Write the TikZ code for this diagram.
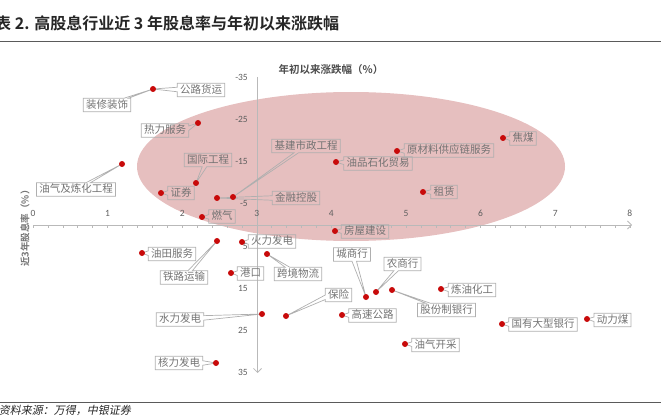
\documentclass[tikz,border=0pt]{standalone}
\usepackage{fontspec}
\newfontfamily\cjk[BoldFont={Noto Sans CJK SC Bold}]{Noto Sans CJK SC}
\newfontfamily\cjkit[FakeSlant=0.2]{Noto Sans CJK SC}
\newfontfamily\numfont{Carlito}
\usetikzlibrary{shapes.callouts,arrows.meta}
\definecolor{ellfill}{RGB}{230,191,191}
\definecolor{axisgray}{RGB}{185,185,185}
\definecolor{boxgray}{RGB}{175,175,175}
\definecolor{txtgray}{RGB}{115,115,115}
\definecolor{ticktxt}{RGB}{95,95,95}
\definecolor{dotred}{RGB}{200,10,10}
\definecolor{rulegray}{RGB}{90,90,90}
\begin{document}
\begin{tikzpicture}[x=1pt,y=-1pt,
  lbl/.style={rectangle callout, draw=boxgray, line width=0.7pt,
    font=\cjk\fontsize{10.5}{10.5}\selectfont, text=txtgray,
    inner xsep=2.8pt, inner ysep=1.5pt, text height=8.6pt, text depth=2pt,
    callout pointer width=4.5pt},
  dot/.style={circle, fill=dotred, inner sep=0pt, minimum size=6pt},
  axisline/.style={draw=axisgray, line width=0.8pt},
  ticklbl/.style={font=\numfont\fontsize{9.5}{9.5}\selectfont, text=ticktxt, inner sep=0pt}
]
\useasboundingbox (0,0) rectangle (661,417);
\clip (0,0) rectangle (661,417);

% ellipse
\fill[ellfill] (351,166.5) ellipse [x radius=214, y radius=74.5];

% title and rules
\node[anchor=base west, font=\cjk\bfseries\fontsize{16}{16}\selectfont, text=black!85, inner sep=0pt] (title) at (-5,30) {表 2. 高股息行业近 3 年股息率与年初以来涨跌幅};
\coordinate (r1a) at (0,41); \coordinate (r1b) at (661,41);
\draw[rulegray, line width=0.9pt] (r1a) -- (r1b);
\coordinate (r2a) at (0,402); \coordinate (r2b) at (661,402);
\draw[rulegray, line width=0.9pt] (r2a) -- (r2b);
\node[anchor=base east, font=\cjkit\fontsize{11}{11}\selectfont, text=black!85, inner sep=0pt] (src) at (131,414) {资料来源：万得，中银证券};

% axes
\coordinate (xa0) at (33,225); \coordinate (xa1) at (632,225);
\draw[axisline, -{Straight Barb[length=4pt,width=8pt]}] (xa0) -- (xa1);
\coordinate (ya0) at (257.5,77); \coordinate (ya1) at (257.5,373);
\draw[axisline, -{Straight Barb[length=4pt,width=8pt]}] (ya0) -- (ya1);
\foreach \i in {0,...,40} { \draw[axisgray, line width=0.6pt] (33+\i*14.92,225) -- ++(0,3); }
\foreach \v in {0,...,8} { \node[ticklbl] (xt\v) at (33+\v*74.6,213) {\v}; }
\foreach \v/\t in {-35/-35,-25/-25,-15/-15,-5/-5,5/5,15/15,25/25,35/35} {
  \node[ticklbl, anchor=east] (yt\t) at (248,225+\v*4.22) {\t}; }

\node[font=\cjk\bfseries\fontsize{10.5}{10.5}\selectfont, text=black!70] (xtitle) at (331,70) {年初以来涨跌幅（\%）};
\node[font=\cjk\bfseries\fontsize{9.5}{9.5}\selectfont, text=txtgray, rotate=90] (ytitle) at (25,226) {近3年股息率（\%）};

% data points
\coordinate (p1) at (153,89);
\coordinate (p2) at (198,123);
\coordinate (p3) at (196,183);
\coordinate (p4) at (161,193);
\coordinate (p5) at (122,164);
\coordinate (p6) at (233,197);
\coordinate (p7) at (217,198);
\coordinate (p8) at (202,217);
\coordinate (p9) at (336,162);
\coordinate (p10) at (397,151);
\coordinate (p11) at (503,138);
\coordinate (p12) at (423,192);
\coordinate (p13) at (335,231);
\coordinate (p14) at (242,242);
\coordinate (p15) at (142,253);
\coordinate (p16) at (217,241);
\coordinate (p17) at (231,273);
\coordinate (p18) at (267,254);
\coordinate (p19) at (262,314);
\coordinate (p20) at (286,316);
\coordinate (p21) at (216,363);
\coordinate (p22) at (366,297);
\coordinate (p23) at (376,292);
\coordinate (p24) at (392,290);
\coordinate (p25) at (342,315);
\coordinate (p26) at (405,344);
\coordinate (p27) at (441,289);
\coordinate (p28) at (502,324);
\coordinate (p29) at (587,319);

% labels with callouts
\node[lbl, callout absolute pointer=(p1)] (l1a) at (201,90) {公路货运};
\node[lbl, callout absolute pointer=(p1)] (l1b) at (107,105) {装修装饰};
\node[lbl, callout absolute pointer=(p2)] (l2) at (165,130.5) {热力服务};
\node[lbl, callout absolute pointer=(p3)] (l3) at (208,160) {国际工程};
\node[lbl, callout absolute pointer=(p4)] (l4) at (181,193) {证券};
\node[lbl, callout absolute pointer=(p5)] (l5) at (76,189.5) {油气及炼化工程};
\node[lbl, callout absolute pointer=(p6)] (l6) at (306,146) {基建市政工程};
\node[lbl, callout absolute pointer=(p7)] (l7) at (296,198) {金融控股};
\node[lbl, callout absolute pointer=(p8)] (l8) at (222,216.5) {燃气};
\node[lbl, callout absolute pointer=(p9)] (l9) at (378,163.5) {油品石化贸易};
\node[lbl, callout absolute pointer=(p10)] (l10) at (449,150.5) {原材料供应链服务};
\node[lbl, callout absolute pointer=(p11)] (l11) at (523,138.5) {焦煤};
\node[lbl, callout absolute pointer=(p12)] (l12) at (444,192) {租赁};
\node[lbl, callout absolute pointer=(p13)] (l13) at (365,231.5) {房屋建设};
\node[lbl, callout absolute pointer=(p14)] (l14) at (272,241.5) {火力发电};
\node[lbl, callout absolute pointer=(p15)] (l15) at (172,254) {油田服务};
\node[lbl, callout absolute pointer=(p16)] (l16) at (184,277.5) {铁路运输};
\node[lbl, callout absolute pointer=(p17)] (l17) at (250.5,273.5) {港口};
\node[lbl, callout absolute pointer=(p18)] (l18) at (298,274) {跨境物流};
\node[lbl, callout absolute pointer=(p19)] (l19) at (180,319.5) {水力发电};
\node[lbl, callout absolute pointer=(p20)] (l20) at (338.5,295) {保险};
\node[lbl, callout absolute pointer=(p21)] (l21) at (179,363) {核力发电};
\node[lbl, callout absolute pointer=(p22)] (l22) at (352,254.5) {城商行};
\node[lbl, callout absolute pointer=(p23)] (l23) at (402.5,264) {农商行};
\node[lbl, callout absolute pointer=(p24)] (l24) at (446.5,310) {股份制银行};
\node[lbl, callout absolute pointer=(p25)] (l25) at (372.5,315.5) {高速公路};
\node[lbl, callout absolute pointer=(p26)] (l26) at (435.5,345) {油气开采};
\node[lbl, callout absolute pointer=(p27)] (l27) at (472,290) {炼油化工};
\node[lbl, callout absolute pointer=(p28)] (l28) at (543,324.5) {国有大型银行};
\node[lbl, callout absolute pointer=(p29)] (l29) at (612.5,320) {动力煤};

% dots on top
\foreach \k in {1,...,29} { \node[dot] (d\k) at (p\k) {}; }
\end{tikzpicture}
\end{document}
